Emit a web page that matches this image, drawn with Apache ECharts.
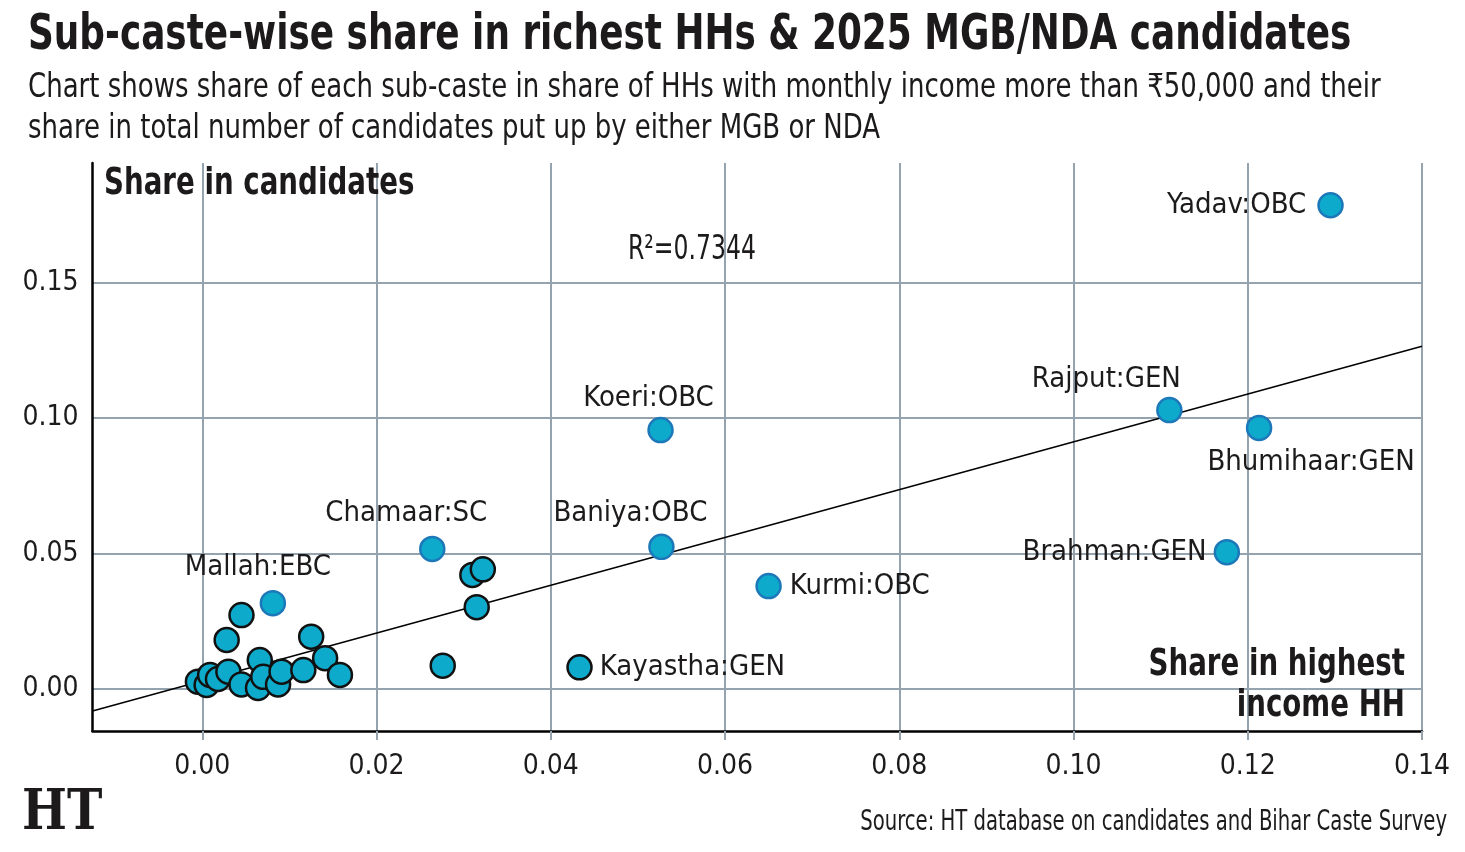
<!DOCTYPE html>
<html>
<head>
<meta charset="utf-8">
<script src="https://cdn.jsdelivr.net/npm/echarts@6.0.0/dist/echarts.min.js"></script>
<style>
  html, body { margin: 0; padding: 0; background: #fff; }
  #chart { width: 1465px; height: 852px; }
</style>
</head>
<body>
<div id="chart"></div>
<script>
// labelled sub-castes: share in richest HHs (x) vs share in MGB/NDA candidates (y)
var labeledNames = ['Yadav:OBC', 'Rajput:GEN', 'Bhumihaar:GEN', 'Brahman:GEN', 'Koeri:OBC',
                    'Baniya:OBC', 'Kurmi:OBC', 'Chamaar:SC', 'Mallah:EBC', 'Kayastha:GEN'];
var labeledHH   = [0.1295, 0.1110, 0.1213, 0.1176, 0.0526, 0.0527, 0.0650, 0.0264, 0.0081, 0.0433];
var labeledCand = [0.1785, 0.1029, 0.0963, 0.0504, 0.0955, 0.0524, 0.0379, 0.0516, 0.0316, 0.0079];

// the other, unlabelled sub-castes
var otherHH   = [-0.0005, 0.0005, 0.0009, 0.0018, 0.0030, 0.0028, 0.0045, 0.0045, 0.0064, 0.0066,
                 0.0070, 0.0087, 0.0091, 0.0116, 0.0125, 0.0141, 0.0158, 0.0310, 0.0322, 0.0315, 0.0276];
var otherCand = [0.0026, 0.0014, 0.0051, 0.0036, 0.0063, 0.0180, 0.0272, 0.0016, 0.0003, 0.0106,
                 0.0044, 0.0016, 0.0063, 0.0069, 0.0192, 0.0113, 0.0051, 0.0420, 0.0441, 0.0301, 0.0085];

var xTicks = [0, 0.02, 0.04, 0.06, 0.08, 0.10, 0.12, 0.14];
var yTicks = [0, 0.05, 0.10, 0.15];

// fitted trend line as drawn in the original (R² = 0.7344)
var trendSlope = 0.8827;
var trendIntercept = 0.0029;

var xMin = -0.0126, xMax = 0.14;
var yMin = -0.0156, yMax = 0.1941;

var FONT = '"DejaVu Sans Condensed", "DejaVu Sans", sans-serif';
var FILL = '#0eaacb';
var BLUE_EDGE = '#1d78b9';
var INK = '#1c1a1a';
var GRID = '#94a3ae';

// where each name label sits next to its dot
var labelPlace = {
    'Yadav:OBC':     { position: 'left', distance: 11 },
    'Rajput:GEN':    { position: 'inside', offset: [-63, -31] },
    'Bhumihaar:GEN': { position: 'inside', offset: [52, 35] },
    'Brahman:GEN':   { position: 'left', distance: 7 },
    'Koeri:OBC':     { position: 'inside', offset: [-12, -32] },
    'Baniya:OBC':    { position: 'inside', offset: [-31, -33] },
    'Kurmi:OBC':     { position: 'right', distance: 8 },
    'Chamaar:SC':    { position: 'inside', offset: [-26, -36] },
    'Mallah:EBC':    { position: 'inside', offset: [-15, -36] },
    'Kayastha:GEN':  { position: 'right', distance: 7 }
};
var blackEdged = { 'Kayastha:GEN': true };

// squeezed text helper (the original uses a condensed face)
function note(text, x, y, font, sx, align) {
    return {
        type: 'text', x: x, y: y, scaleX: sx, z: 10, silent: true,
        style: { text: text, font: font, fill: INK, align: align || 'left', verticalAlign: 'middle' }
    };
}

var chart = echarts.init(document.getElementById('chart'));

var labeledData = labeledNames.map(function (n, i) {
    var p = labelPlace[n];
    return {
        name: n,
        value: [labeledHH[i], labeledCand[i]],
        itemStyle: { borderColor: blackEdged[n] ? '#111' : BLUE_EDGE },
        label: {
            show: true,
            formatter: n,
            position: p.position,
            distance: p.distance || 0,
            offset: p.offset || [0, 0],
            align: p.position === 'inside' ? 'center' : null
        }
    };
});

var otherData = otherHH.map(function (x, i) { return [x, otherCand[i]]; });

var trendData = [
    [xMin, trendIntercept + trendSlope * xMin],
    [xMax, trendIntercept + trendSlope * xMax]
];

var option = {
    animation: false,
    backgroundColor: '#fff',
    grid: { left: 92.5, right: 43, top: 163, bottom: 121 },
    xAxis: {
        type: 'value',
        min: xMin,
        max: xMax,
        axisLine: { onZero: false, lineStyle: { color: '#000', width: 2.5 } },
        axisTick: { show: true, customValues: xTicks, length: 9, lineStyle: { color: GRID, width: 2 } },
        axisLabel: {
            customValues: xTicks,
            margin: 22,
            fontFamily: FONT, fontSize: 28, color: INK,
            formatter: function (v) { return v.toFixed(2); }
        },
        splitLine: { show: true, lineStyle: { color: GRID, width: 2 } }
    },
    yAxis: {
        type: 'value',
        min: yMin,
        max: yMax,
        axisLine: { show: true, onZero: false, lineStyle: { color: '#000', width: 2.5 } },
        axisTick: { show: false, customValues: yTicks },
        axisLabel: {
            customValues: yTicks,
            margin: 14,
            fontFamily: FONT, fontSize: 28, color: INK,
            formatter: function (v) { return v.toFixed(2); }
        },
        splitLine: { show: true, lineStyle: { color: GRID, width: 2 } }
    },
    graphic: [
        note('Sub-caste-wise share in richest HHs & 2025 MGB/NDA candidates', 28, 36, 'bold 50px ' + FONT, 0.797),
        note('Chart shows share of each sub-caste in share of HHs with monthly income more than \u20b950,000 and their',
             28, 88, '33px ' + FONT, 0.876),
        note('share in total number of candidates put up by either MGB or NDA', 28, 129, '33px ' + FONT, 0.876),
        note('Share in candidates', 104, 184, 'bold 38px ' + FONT, 0.81),
        note('R\u00b2=0.7344', 628, 250, '34px ' + FONT, 0.77),
        note('Share in highest', 1405, 665, 'bold 38px ' + FONT, 0.81, 'right'),
        note('income HH', 1405, 706, 'bold 38px ' + FONT, 0.81, 'right'),
        note('HT', 22, 814, 'bold 56px "DejaVu Serif", serif', 0.85),
        note('Source: HT database on candidates and Bihar Caste Survey', 1447, 823, '28px ' + FONT, 0.78, 'right')
    ],
    series: [
        {
            type: 'line',
            data: trendData,
            symbol: 'none',
            silent: true,
            z: 1,
            lineStyle: { color: '#000', width: 1.5 }
        },
        {
            type: 'scatter',
            data: otherData,
            symbolSize: 24,
            z: 2,
            itemStyle: { color: FILL, borderColor: '#111', borderWidth: 2.5, opacity: 1 }
        },
        {
            type: 'scatter',
            data: labeledData,
            symbolSize: 24,
            z: 3,
            itemStyle: { color: FILL, borderWidth: 2.5, opacity: 1 },
            label: { fontFamily: FONT, fontSize: 29, color: INK }
        }
    ]
};

chart.setOption(option);
</script>
</body>
</html>
